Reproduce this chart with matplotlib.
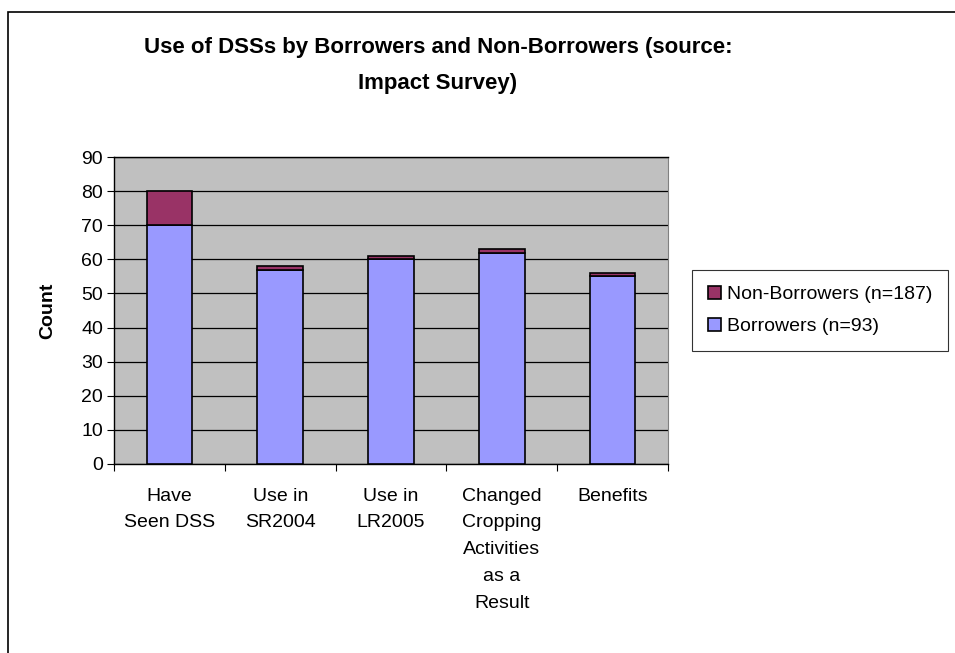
import numpy as np
import matplotlib.pyplot as plt
from matplotlib.patches import Rectangle

categories = ['Have\nSeen DSS', 'Use in\nSR2004', 'Use in\nLR2005',
              'Changed\nCropping\nActivities\nas a\nResult', 'Benefits']
borrowers = [70, 57, 60, 62, 55]
non_borrowers = [10, 1, 1, 1, 1]
yticks = list(range(0, 91, 10))

plt.rcParams['font.family'] = ['Liberation Sans', 'DejaVu Sans']

fig = plt.figure(figsize=(9.55, 6.53), dpi=100)

# chart area border (right and bottom run off the picture)
fig.patches.append(Rectangle((8 / 955, -0.05), 1.2, 1 - 12 / 653 + 0.05,
                             transform=fig.transFigure, fill=False,
                             edgecolor='black', linewidth=1.2))

ax = fig.add_axes([114 / 955, (653 - 464) / 653, 554 / 955, 307 / 653])
ax.set_facecolor('#C0C0C0')

x = np.arange(len(categories))
w = 0.41
b1 = ax.bar(x, borrowers, w, color='#9999FF', edgecolor='black', linewidth=1.2,
            label='Borrowers (n=93)', zorder=3)
b2 = ax.bar(x, non_borrowers, w, bottom=borrowers, color='#993366',
            edgecolor='black', linewidth=1.2, label='Non-Borrowers (n=187)', zorder=3)

ax.set_xlim(-0.5, len(categories) - 0.5)
ax.set_ylim(0, 90)
ax.set_yticks(yticks)
ax.yaxis.grid(True, color='black', linewidth=0.9, zorder=1)
ax.tick_params(axis='y', labelsize=14, length=5, width=0.8, direction='out', pad=3)

ax.set_xticks(x)
ax.set_xticklabels(categories, fontsize=14, linespacing=1.75, va='top')
ax.tick_params(axis='x', which='major', length=0, pad=17)
ax.set_xticks(np.arange(-0.5, len(categories)), minor=True)
ax.tick_params(axis='x', which='minor', length=5, width=0.8, direction='out')

for s in ['left', 'bottom', 'top']:
    ax.spines[s].set_color('black')
    ax.spines[s].set_linewidth(1.0)
ax.spines['right'].set_color('#808080')

ax.set_ylabel('Count', fontsize=14, fontweight='bold', labelpad=18)

fig.text(438 / 955, 1 - 48 / 653, 'Use of DSSs by Borrowers and Non-Borrowers (source:',
         ha='center', va='center', fontsize=16, fontweight='bold')
fig.text(438 / 955, 1 - 83 / 653, 'Impact Survey)',
         ha='center', va='center', fontsize=16, fontweight='bold')

leg = fig.legend([b2, b1], ['Non-Borrowers (n=187)', 'Borrowers (n=93)'],
                 loc='upper left', bbox_to_anchor=(692 / 955, 1 - 270 / 653),
                 fontsize=14, frameon=True, fancybox=False, edgecolor='black',
                 handlelength=0.7, handleheight=0.7, handletextpad=0.3,
                 labelspacing=0.75, borderpad=0.8, borderaxespad=0)
leg.get_frame().set_linewidth(0.8)

fig.savefig('out.png', dpi=100)
